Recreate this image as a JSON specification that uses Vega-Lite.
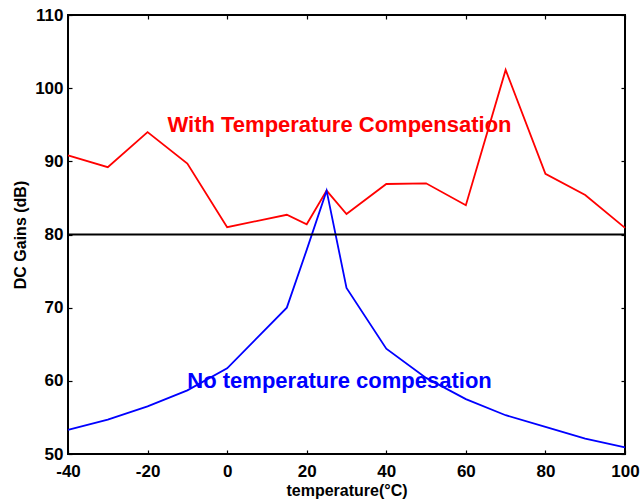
{
  "$schema": "https://vega.github.io/schema/vega-lite/v6.json",
  "autosize": "none",
  "width": 557,
  "height": 439,
  "padding": {"left": 68, "top": 15, "right": 16, "bottom": 46},
  "background": "white",
  "config": {
    "view": {"stroke": "black", "strokeWidth": 2, "fill": null},
    "font": "Liberation Sans",
    "axis": {
      "grid": false,
      "domain": false,
      "ticks": true,
      "zindex": 2,
      "tickColor": "black",
      "tickSize": 4,
      "tickWidth": 1.2,
      "tickOpacity": 1,
      "offset": -4,
      "labelFlush": false,
      "labelFont": "Liberation Sans",
      "labelFontWeight": "bold",
      "labelFontSize": 17,
      "labelColor": "black",
      "titleFont": "Liberation Sans",
      "titleFontWeight": "bold",
      "titleFontSize": 16,
      "titleColor": "black"
    }
  },
  "datasets": {
    "series": [
      {"t": -40, "gain": 90.8, "s": "with"},
      {"t": -30, "gain": 89.2, "s": "with"},
      {"t": -20, "gain": 94.0, "s": "with"},
      {"t": -10, "gain": 89.7, "s": "with"},
      {"t": 0, "gain": 81.0, "s": "with"},
      {"t": 15, "gain": 82.7, "s": "with"},
      {"t": 20, "gain": 81.4, "s": "with"},
      {"t": 25, "gain": 86.0, "s": "with"},
      {"t": 30, "gain": 82.8, "s": "with"},
      {"t": 40, "gain": 86.9, "s": "with"},
      {"t": 50, "gain": 87.0, "s": "with"},
      {"t": 60, "gain": 84.0, "s": "with"},
      {"t": 70, "gain": 102.5, "s": "with"},
      {"t": 80, "gain": 88.3, "s": "with"},
      {"t": 90, "gain": 85.4, "s": "with"},
      {"t": 100, "gain": 80.9, "s": "with"},
      {"t": -40, "gain": 53.3, "s": "no"},
      {"t": -30, "gain": 54.7, "s": "no"},
      {"t": -20, "gain": 56.5, "s": "no"},
      {"t": -10, "gain": 58.7, "s": "no"},
      {"t": 0, "gain": 61.7, "s": "no"},
      {"t": 15, "gain": 70.0, "s": "no"},
      {"t": 20, "gain": 77.9, "s": "no"},
      {"t": 25, "gain": 86.0, "s": "no"},
      {"t": 30, "gain": 72.7, "s": "no"},
      {"t": 40, "gain": 64.4, "s": "no"},
      {"t": 50, "gain": 60.4, "s": "no"},
      {"t": 60, "gain": 57.5, "s": "no"},
      {"t": 70, "gain": 55.3, "s": "no"},
      {"t": 80, "gain": 53.7, "s": "no"},
      {"t": 90, "gain": 52.1, "s": "no"},
      {"t": 100, "gain": 50.9, "s": "no"}
    ],
    "labels": [
      {"t": -15, "gain": 95, "label": "With Temperature Compensation", "s": "with"},
      {"t": -10, "gain": 60, "label": "No temperature compesation", "s": "no"}
    ],
    "ref": [{"gain": 80}]
  },
  "resolve": {"axis": {"x": "independent", "y": "independent"}},
  "layer": [
    {
      "data": {"name": "series"},
      "mark": {"type": "line", "strokeWidth": 1.8},
      "encoding": {
        "x": {"field": "t", "type": "quantitative", "scale": {"domain": [-40, 100], "nice": false, "zero": false},
              "axis": {"orient": "bottom", "values": [-40, -20, 0, 20, 40, 60, 80, 100], "title": "temperature(°C)", "labelPadding": 9, "titlePadding": 3,
                       "labelExpr": "datum.value < 0 ? '-' + abs(datum.value) : '' + datum.value"}},
        "y": {"field": "gain", "type": "quantitative", "scale": {"domain": [50, 110], "nice": false, "zero": false},
              "axis": {"orient": "left", "values": [50, 60, 70, 80, 90, 100, 110], "title": "DC Gains (dB)", "labelPadding": 5, "titlePadding": 6}},
        "color": {"field": "s", "type": "nominal", "scale": {"domain": ["with", "no"], "range": ["#ff0000", "#0000ff"]}, "legend": null},
        "detail": {"field": "s"}
      }
    },
    {
      "data": {"name": "ref"},
      "mark": {"type": "rule", "color": "black", "strokeWidth": 2},
      "encoding": {
        "y": {"field": "gain", "type": "quantitative",
              "axis": {"orient": "right", "values": [50, 60, 70, 80, 90, 100, 110], "labels": false, "title": null}}
      }
    },
    {
      "data": {"name": "labels"},
      "mark": {"type": "text", "align": "left", "baseline": "middle", "fontSize": 22, "fontWeight": "bold", "font": "Liberation Sans"},
      "encoding": {
        "x": {"field": "t", "type": "quantitative",
              "axis": {"orient": "top", "values": [-40, -20, 0, 20, 40, 60, 80, 100], "labels": false, "title": null}},
        "y": {"field": "gain", "type": "quantitative", "axis": null},
        "text": {"field": "label"},
        "color": {"field": "s", "type": "nominal", "legend": null}
      }
    }
  ]
}
